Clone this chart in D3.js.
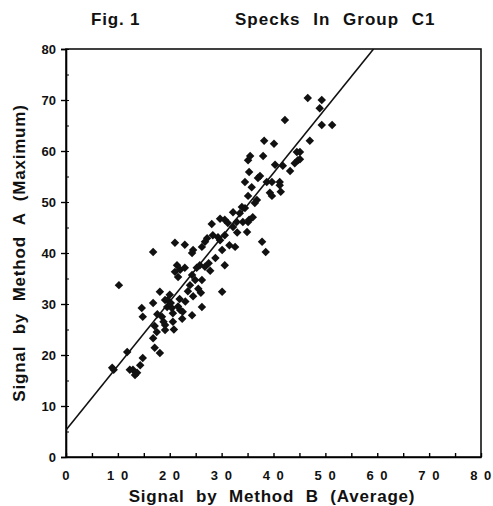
<!DOCTYPE html>
<html>
<head>
<meta charset="utf-8">
<script src="https://cdn.jsdelivr.net/npm/d3@7"></script>
<style>
  body { margin: 0; background: #fff; }
  text { font-family: "Liberation Sans", Arial, sans-serif; font-weight: bold; fill: #111; }
</style>
</head>
<body>
<svg width="493" height="506"></svg>
<script>
// Method B (average) values, x
var methodB = [46.6, 49.3, 48.9, 49.3, 51.3, 47.0, 45.1, 45.1, 42.2, 38.2, 40.1, 44.5,
  35.5, 35.1, 38.0, 44.7, 44.1, 41.8, 40.3, 43.2, 35.3, 37.4, 37.0, 34.5, 38.7, 39.7,
  41.2, 35.8, 41.2, 41.4, 39.3, 39.7, 35.1, 36.8, 36.4, 32.2, 33.9, 34.5, 33.5, 35.3,
  35.1, 28.1, 29.7, 30.6, 31.2, 32.9, 32.2, 34.1, 34.9, 37.8, 38.5, 27.2, 28.3, 29.3,
  29.7, 30.6, 32.6, 30.1, 16.8, 21.0, 22.9, 24.5, 24.3, 26.8, 26.2, 30.1, 30.6, 21.4,
  22.0, 22.9, 25.2, 25.8, 26.8, 24.3, 21.6, 24.9, 26.2, 23.9, 21.0, 18.1, 16.8, 19.1,
  19.5, 20.4, 20.6, 22.0, 24.3, 26.2, 22.4, 20.6, 18.5, 14.6, 14.8, 19.1, 17.1, 17.5,
  16.8, 19.1, 17.1, 18.1, 14.8, 14.3, 12.9, 13.7, 13.3, 12.3, 11.8, 8.9, 9.2, 10.2,
  19.6, 20.2, 21.9, 21.6, 24.5, 26.0, 23.0, 20.0, 25.5, 27.5, 28.8, 31.5, 33.0, 36.0,
  23.5, 27.8, 18.8, 20.8, 22.5, 17.6];
// Method A (maximum) values, y
var methodA = [70.4, 70.0, 68.4, 65.1, 65.1, 62.0, 59.8, 58.4, 66.1, 62.0, 61.4, 59.8,
  59.0, 58.2, 59.0, 58.2, 57.6, 57.1, 57.3, 56.1, 55.9, 55.1, 54.7, 53.9, 53.9, 53.9,
  53.9, 52.9, 53.3, 52.0, 51.8, 51.2, 51.2, 50.4, 49.8, 48.0, 49.0, 48.8, 47.8, 46.5,
  46.1, 45.7, 46.7, 46.5, 45.9, 46.1, 45.1, 46.1, 44.1, 42.2, 40.2, 42.9, 43.5, 43.1,
  42.5, 43.5, 41.2, 32.4, 40.2, 42.0, 41.6, 40.6, 40.0, 42.2, 41.2, 40.6, 37.6, 37.6,
  36.7, 37.1, 37.1, 37.6, 37.3, 35.7, 35.3, 34.7, 34.7, 33.7, 36.3, 32.4, 30.2, 30.8,
  29.4, 29.2, 28.2, 28.8, 27.8, 29.4, 27.1, 26.5, 27.5, 29.2, 27.5, 25.9, 25.7, 24.5,
  23.3, 24.9, 21.4, 20.4, 19.4, 18.0, 17.1, 16.5, 16.1, 17.1, 20.6, 17.5, 17.1, 33.7,
  30.8, 30.2, 31.0, 29.5, 31.5, 32.2, 30.5, 31.8, 33.0, 38.0, 39.0, 41.5, 44.0, 47.0,
  32.5, 36.5, 26.5, 25.0, 28.5, 28.0];

var xTicks = [0, 10, 20, 30, 40, 50, 60, 70, 80];
var yTicks = [0, 10, 20, 30, 40, 50, 60, 70, 80];
var minorTicks = [0, 5, 10, 15, 20, 25, 30, 35, 40, 45, 50, 55, 60, 65, 70, 75, 80];

// fitted line: A = intercept + slope * B
var intercept = 5.3;
var slope = 1.26;

var svg = d3.select("svg");
var mLeft = 66, mRight = 481, mTop = 49, mBottom = 457;

var x = d3.scaleLinear().domain([0, 80]).range([mLeft, mRight]);
var y = d3.scaleLinear().domain([0, 80]).range([mBottom, mTop]);

// titles
svg.append("text").attr("x", 91).attr("y", 25).attr("font-size", "17px")
  .attr("letter-spacing", "0.8px").text("Fig. 1");
svg.append("text").attr("x", 235).attr("y", 25).attr("font-size", "17px")
  .attr("letter-spacing", "1px").attr("word-spacing", "7px").text("Specks In Group C1");

// frame
svg.append("rect")
  .attr("x", mLeft).attr("y", mTop)
  .attr("width", mRight - mLeft).attr("height", mBottom - mTop)
  .attr("fill", "none").attr("stroke", "#111").attr("stroke-width", 1.6);

// x axis: ticks every 5 pointing inward, labels at 10s
var xAxis = svg.append("g")
  .attr("transform", "translate(0," + mBottom + ")")
  .call(d3.axisBottom(x).tickValues(minorTicks).tickSizeInner(-4).tickSizeOuter(0).tickPadding(14)
    .tickFormat(function(d) { return d % 10 === 0 ? String(d).split("").join(" ") : ""; }));
xAxis.select(".domain").attr("stroke-width", 1.6);
xAxis.selectAll("text").attr("font-size", "13px").attr("font-family", "Liberation Sans, Arial, sans-serif")
  .attr("font-weight", "bold").attr("fill", "#111").attr("letter-spacing", "1.5px")
  .style("white-space", "pre");
xAxis.selectAll("line").attr("stroke-width", 1.4);

// y axis: major ticks outward with labels, minor inward
var yAxis = svg.append("g")
  .attr("transform", "translate(" + mLeft + ",0)")
  .call(d3.axisLeft(y).tickValues(yTicks).tickSize(5).tickPadding(5));
yAxis.select(".domain").attr("stroke-width", 1.6);
yAxis.selectAll("text").attr("font-size", "13px").attr("font-family", "Liberation Sans, Arial, sans-serif")
  .attr("font-weight", "bold").attr("fill", "#111");
yAxis.selectAll("line").attr("stroke-width", 1.4);

svg.append("g")
  .attr("transform", "translate(" + mLeft + ",0)")
  .call(d3.axisRight(y).tickValues(minorTicks).tickSize(3).tickFormat(""))
  .select(".domain").remove();

// axis labels
svg.append("text")
  .attr("x", 272).attr("y", 502)
  .attr("text-anchor", "middle").attr("font-size", "17px")
  .attr("letter-spacing", "0.8px").attr("word-spacing", "6px")
  .text("Signal by Method B (Average)");
svg.append("text")
  .attr("transform", "translate(25,253) rotate(-90)")
  .attr("text-anchor", "middle").attr("font-size", "17px")
  .attr("letter-spacing", "0.8px").attr("word-spacing", "6px")
  .text("Signal by Method A (Maximum)");

// clip for the fitted line
svg.append("clipPath").attr("id", "plotclip")
  .append("rect").attr("x", mLeft).attr("y", mTop)
  .attr("width", mRight - mLeft).attr("height", mBottom - mTop);

var lineEnd = (80 - intercept) / slope;
svg.append("line")
  .attr("clip-path", "url(#plotclip)")
  .attr("x1", x(0)).attr("y1", y(intercept))
  .attr("x2", x(lineEnd)).attr("y2", y(80))
  .attr("stroke", "#111").attr("stroke-width", 1.6);

// points as diamonds
var points = methodB.map(function(b, i) { return { b: b, a: methodA[i] }; });
svg.append("g").selectAll("path")
  .data(points)
  .enter().append("path")
  .attr("d", d3.symbol(d3.symbolSquare).size(36))
  .attr("transform", function(d) {
    return "translate(" + x(d.b) + "," + y(d.a) + ") rotate(45)";
  })
  .attr("fill", "#111");
</script>
</body>
</html>
